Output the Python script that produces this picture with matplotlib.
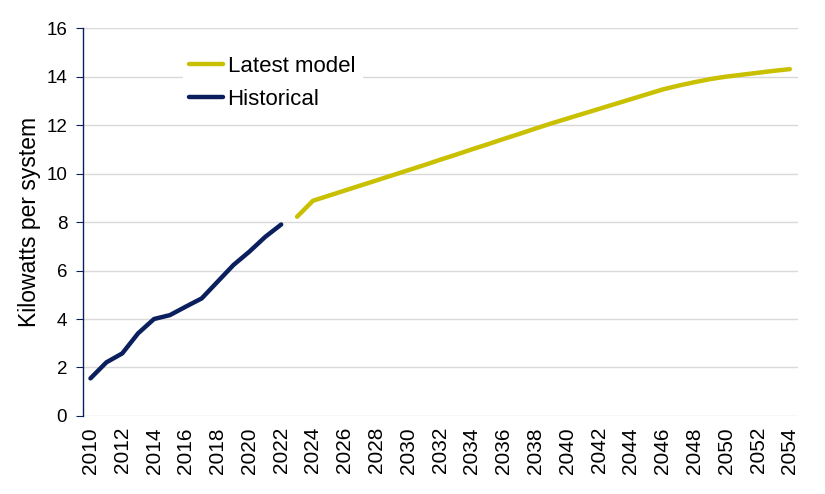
import matplotlib.pyplot as plt

plt.rcParams['font.family'] = ['Liberation Sans', 'DejaVu Sans']

# historical values, 2010-2022
hist_years = list(range(2010, 2023))
hist_vals = [1.55, 2.21, 2.58, 3.41, 4.0, 4.16, 4.51, 4.85, 5.54, 6.23, 6.78, 7.39, 7.90]

# latest model, 2023-2054
model_years = list(range(2023, 2055))
model_vals = [8.22, 8.88, 9.09, 9.30, 9.51, 9.72, 9.93, 10.14, 10.35, 10.57, 10.78,
              11.00, 11.21, 11.43, 11.64, 11.86, 12.07, 12.27, 12.47, 12.67, 12.87,
              13.07, 13.27, 13.47, 13.63, 13.77, 13.90, 14.00, 14.08, 14.16, 14.24, 14.31]

navy = "#0b1f5e"
yellow = "#c8c000"

fig = plt.figure(figsize=(8.25, 4.94), dpi=100)
ax = fig.add_axes([0.1, 0.158, 0.867, 0.785])

ax.plot(model_years, model_vals, color=yellow, lw=3.2, solid_capstyle='round', label="Latest model", zorder=3)
ax.plot(hist_years, hist_vals, color=navy, lw=3.2, solid_capstyle='round', label="Historical", zorder=3)

ax.set_xlim(2009.5, 2054.5)
ax.set_ylim(0, 16)
ax.set_yticks(range(0, 17, 2))
ax.set_xticks(range(2010, 2055, 2))
ax.set_xticklabels([str(y) for y in range(2010, 2055, 2)], rotation=90)
ax.tick_params(axis='x', length=0, labelsize=15, pad=8)
ax.tick_params(axis='y', length=5, color=navy, labelsize=13.5, direction='out', pad=6)

ax.grid(axis='y', color='#d9d9d9', lw=1)
ax.set_axisbelow(True)
for s in ['top', 'right', 'bottom']:
    ax.spines[s].set_visible(False)
ax.spines['left'].set_color(navy)
ax.spines['left'].set_linewidth(1)

ax.set_ylabel("Kilowatts per system", fontsize=16.5, labelpad=4)

leg = ax.legend(loc='upper left', bbox_to_anchor=(0.14, 0.945), fontsize=16,
                frameon=True, fancybox=False, handlelength=1.5, handletextpad=0.22,
                labelspacing=0.54, borderpad=0.3, borderaxespad=0)
leg.get_frame().set_edgecolor('white')
leg.get_frame().set_facecolor('white')
leg.get_frame().set_alpha(1)

fig.savefig("out.png", dpi=100)
